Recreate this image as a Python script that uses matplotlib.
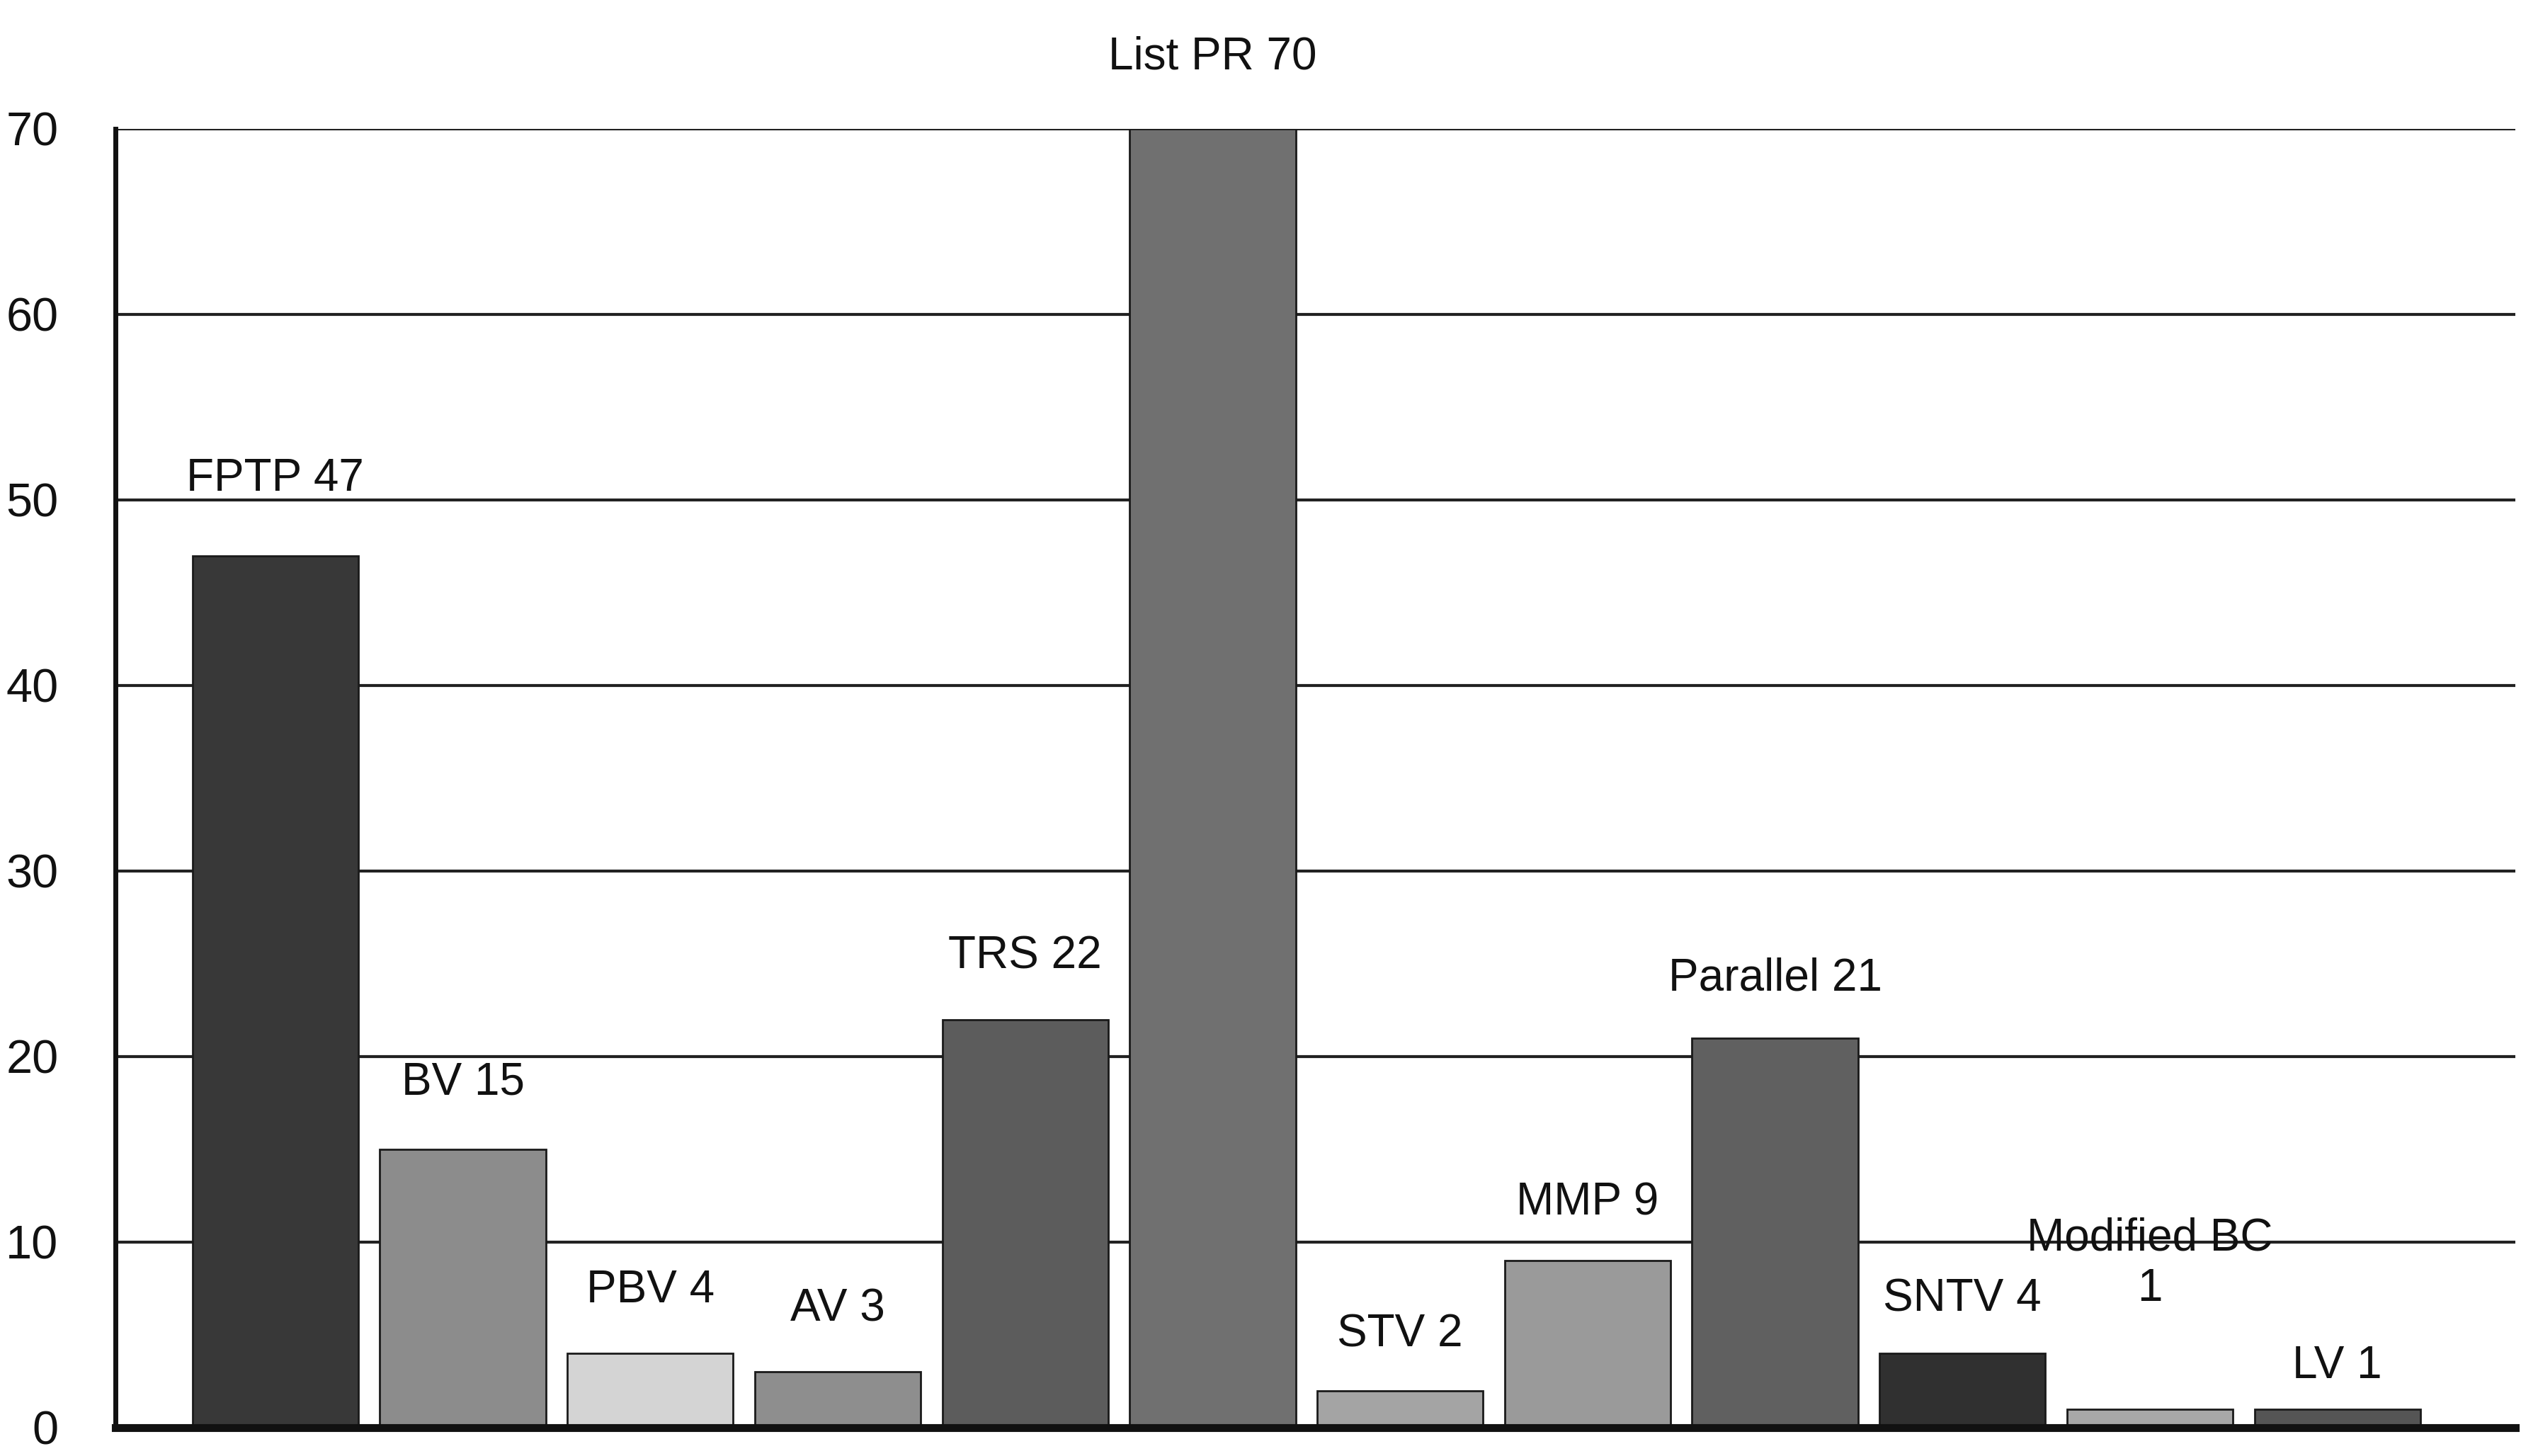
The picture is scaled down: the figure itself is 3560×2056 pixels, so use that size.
import matplotlib
matplotlib.use("Agg")
import matplotlib.pyplot as plt
from matplotlib import font_manager

categories = ["FPTP", "BV", "PBV", "AV", "TRS", "List PR", "STV", "MMP",
              "Parallel", "SNTV", "Modified BC", "LV"]
values = [47, 15, 4, 3, 22, 70, 2, 9, 21, 4, 1, 1]
labels = ["FPTP 47", "BV 15", "PBV 4", "AV 3", "TRS 22", "List PR 70", "STV 2",
          "MMP 9", "Parallel 21", "SNTV 4", "Modified BC\n1", "LV 1"]
yticks = [0, 10, 20, 30, 40, 50, 60, 70]

colors = ["#383838", "#8c8c8c", "#d4d4d4", "#8e8e8e", "#5c5c5c", "#707070",
          "#a4a4a4", "#9a9a9a", "#606060", "#303030", "#a8a8a8", "#555555"]
label_offsets = [78, 68, 64, 64, 64, 73, 57, 59, 61, 55, 148, 44]

avail = {f.name for f in font_manager.fontManager.ttflist}
fam = "Liberation Sans Narrow" if "Liberation Sans Narrow" in avail else "Liberation Sans"
plt.rcParams['font.family'] = [fam, 'DejaVu Sans']

fig = plt.figure(figsize=(35.6, 20.56), dpi=100)
ax = fig.add_axes([0.0458, 0.0195, 0.952, 0.892])

x = list(range(len(categories)))
ax.bar(x, values, width=0.885, color=colors, edgecolor="#1a1a1a",
       linewidth=2.0, zorder=3)

for xi, v, lab, off in zip(x, values, labels, label_offsets):
    ax.annotate(lab, (xi, v), xytext=(0, off), textcoords="offset points",
                ha="center", va="center", fontsize=46, color="#111111",
                linespacing=1.25, zorder=4)

ax.set_xlim(-0.853, 11.95)
ax.set_ylim(0, 70)
ax.set_yticks(yticks)
ax.set_yticklabels([str(t) for t in yticks], fontsize=48, color="#111111")
ax.set_xticks([])
ax.tick_params(axis="y", length=0, pad=58)
ax.yaxis.grid(True, color="#222222", linewidth=3.0, zorder=0)
ax.set_axisbelow(True)

for s in ["top", "right"]:
    ax.spines[s].set_visible(False)
ax.spines["left"].set_linewidth(5)
ax.spines["bottom"].set_linewidth(8)
ax.spines["left"].set_color("#111111")
ax.spines["bottom"].set_color("#111111")
ax.spines["bottom"].set_zorder(5)

fig.savefig("out.png", dpi=100, facecolor="white")
